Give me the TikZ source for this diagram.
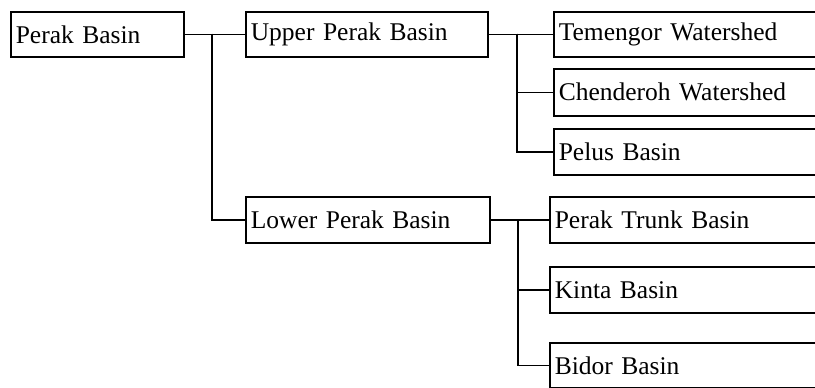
\documentclass[tikz,border=0pt]{standalone}
\usepackage{fontspec}
\setmainfont{Liberation Serif}
\begin{document}
\begin{tikzpicture}[x=1pt,y=-1pt,
  box/.style={draw, line width=1.6pt, anchor=north west, inner xsep=5pt, inner ysep=0pt,
    align=left, font=\fontsize{25.5}{30}\selectfont},
  conn/.style={line width=1.6pt}]
\useasboundingbox (0,0) rectangle (815,388);
\clip (0,0) rectangle (815,388);
\node[box, minimum width=173pt, minimum height=45pt, text width=163pt] (perak) at (10,11) {Perak Basin};
\node[box, minimum width=242pt, minimum height=45pt, text width=232pt] (upper) at (245,11) {Upper Perak Basin};
\node[box, minimum width=244pt, minimum height=46pt, text width=234pt] (lower) at (245,196) {Lower Perak Basin};
\node[box, minimum width=277pt, minimum height=45pt, text width=267pt] (tem) at (553,11) {Temengor Watershed};
\node[box, minimum width=277pt, minimum height=47pt, text width=267pt] (chen) at (553,68) {Chenderoh Watershed};
\node[box, minimum width=277pt, minimum height=46pt, text width=267pt] (pelus) at (553,128) {Pelus Basin};
\node[box, minimum width=281pt, minimum height=46pt, text width=271pt] (trunk) at (549,196) {Perak Trunk Basin};
\node[box, minimum width=281pt, minimum height=46pt, text width=271pt] (kinta) at (549,266) {Kinta Basin};
\node[box, minimum width=281pt, minimum height=45pt, text width=271pt] (bidor) at (549,342) {Bidor Basin};
\coordinate (j1) at (212,33.5);
\coordinate (j2) at (517,33.5);
\coordinate (j3) at (518,219);
\draw[conn] (perak.east) -- (upper.west);
\draw[conn] (j1) |- (lower.west);
\draw[conn] (upper.east) -- (tem.west);
\draw[conn] (j2) |- (chen.west);
\draw[conn] (j2) |- (pelus.west);
\draw[conn] (lower.east) -- (trunk.west);
\draw[conn] (j3) |- (kinta.west);
\draw[conn] (j3) |- (bidor.west);
\end{tikzpicture}
\end{document}
